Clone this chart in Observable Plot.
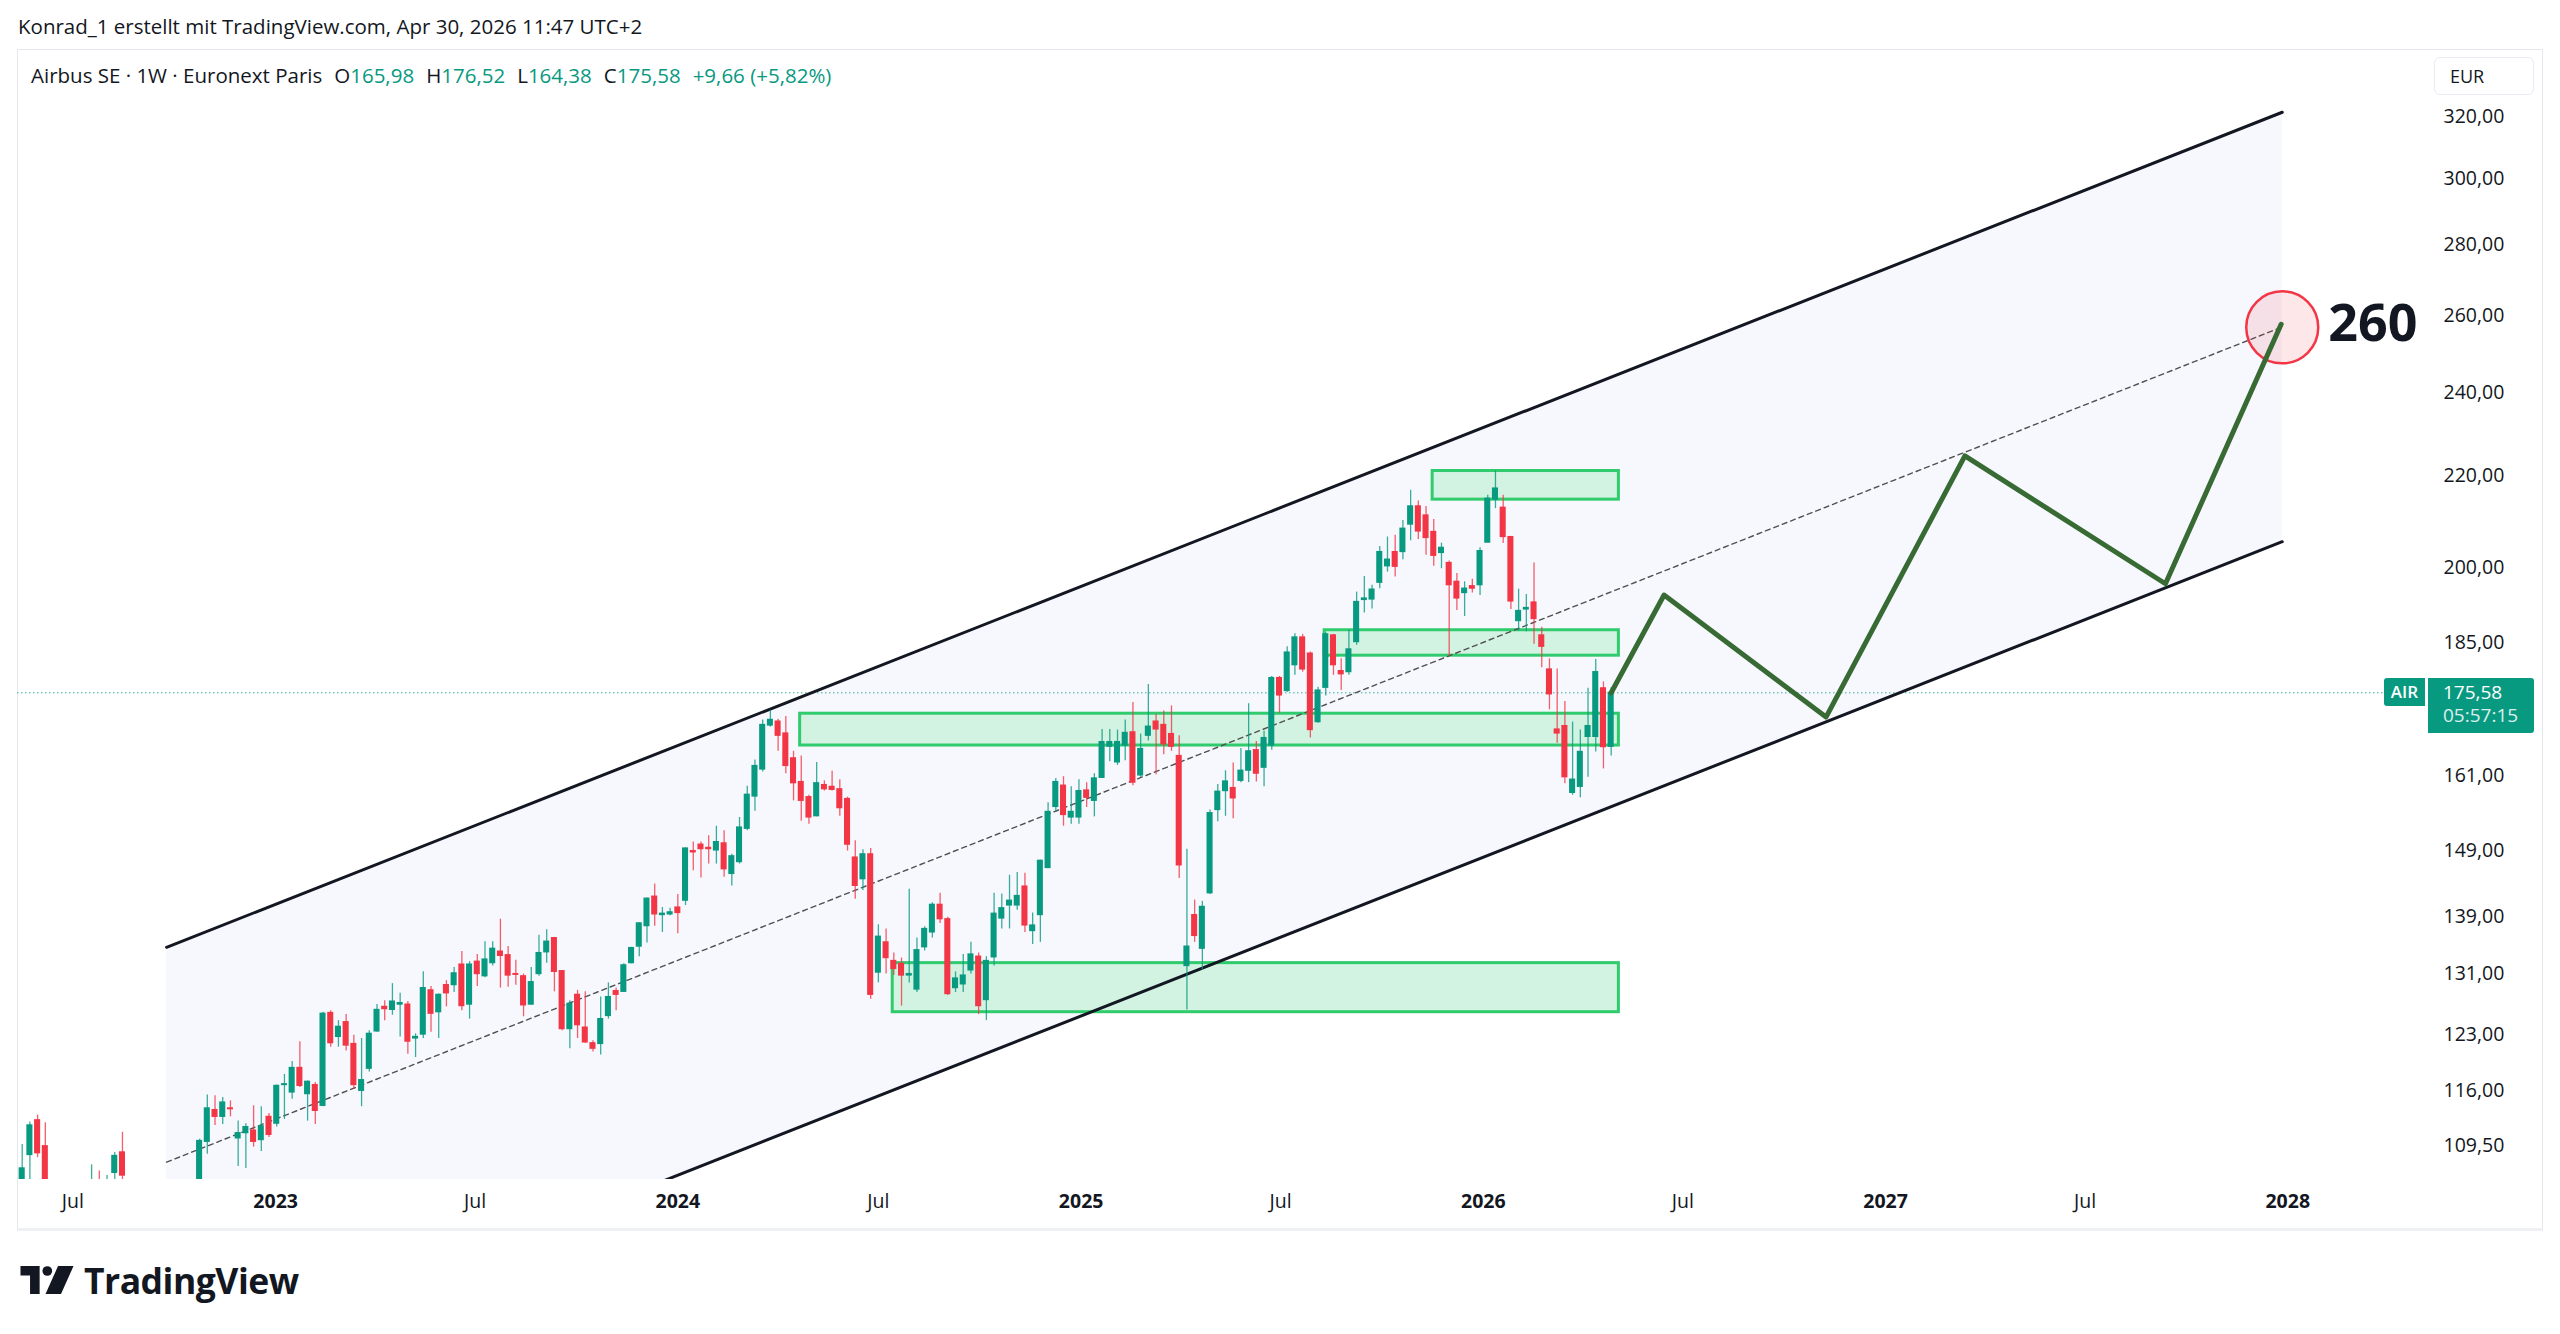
<!DOCTYPE html>
<html>
<head>
<meta charset="utf-8">
<script src="https://cdn.jsdelivr.net/npm/d3@7"></script>
<script src="https://cdn.jsdelivr.net/npm/@observablehq/plot@0.6"></script>
<style>
  html, body { margin: 0; padding: 0; background: #ffffff; }
  body { width: 2560px; height: 1334px; position: relative; overflow: hidden; font-family: "Open Sans", "Noto Sans", sans-serif; color: #131722; }
  #hdr { position: absolute; left: 18px; top: 12px; font-size: 20.5px; line-height: 28px; white-space: nowrap; }
  #pane { position: absolute; left: 17px; top: 49px; width: 2524px; height: 1178px; border: 1px solid #e6e8ee; border-bottom: 3px solid #eef0f3; }
  #chart { position: absolute; left: 0; top: 49px; }
  #legend { position: absolute; left: 31px; top: 61px; font-size: 20.5px; line-height: 28px; white-space: nowrap; }
  #legend .v { color: #089981; }
  #legend .k { margin-left: 12px; }
  #eur { position: absolute; left: 2434px; top: 57px; width: 100px; height: 38px; border: 1px solid #e9ebf0; border-radius: 6px; box-sizing: border-box; font-size: 18px; line-height: 36px; padding-left: 15px; }
  .tag { position: absolute; background: #089981; color: #fff; font-size: 19px; box-sizing: border-box; }
  #air { left: 2384px; width: 41px; height: 28px; line-height: 28px; text-align: center; font-weight: 600; font-size: 17px; border-radius: 3px 0 0 3px; }
  #price { left: 2428px; width: 106px; height: 55px; padding-left: 15px; line-height: 23px; padding-top: 3px; border-radius: 0 3px 3px 0; }
  #price div:last-child { opacity: 0.85; }
  #logo { position: absolute; left: 20px; top: 1261px; height: 38px; display: flex; align-items: center; }
  #logo span { font-weight: 700; font-size: 35.5px; letter-spacing: -0.5px; margin-left: 10px; font-family: "Open Sans", sans-serif; }
</style>
</head>
<body>
<div id="hdr">Konrad_1 erstellt mit TradingView.com, Apr 30, 2026 11:47 UTC+2</div>
<div id="pane"></div>
<div id="chart"></div>
<div id="legend"></div>
<div id="eur">EUR</div>
<div id="logo">
  <svg width="54" height="28" viewBox="0 0 36 19">
    <path d="M0 0H13V19H6.5V6.5H0Z" fill="#131722"/>
    <circle cx="18.2" cy="3.4" r="3.3" fill="#131722"/>
    <path d="M25.5 0H36L27.5 19H17Z" fill="#131722"/>
  </svg>
  <span>TradingView</span>
</div>
<script>
// ---------- data ----------
const firstWeek = "2022-05-16"; // Monday of the first weekly candle, one candle per week after that
const open = [
  105.2, 108.5, 112.5, 109.5, null, null, null, null, null, 100.5,
  104.5, 102.0, 106.5, 108.8, null, null, null, null, null, null,
  null, null, null, 101.5, 110.0, 113.7, 112.9, 113.9, 110.4, 111.0,
  111.3, 110.2, 112.9, 112.1, 116.7, 115.8, 118.8, 115.6, 116.7, 114.2,
  125.8, 122.7, 124.6, 121.8, 116.0, 118.7, 123.4, 126.6, 126.2, 126.9,
  126.9, 122.5, 123.0, 128.8, 125.9, 129.5, 129.5, 132.3, 126.9, 132.7,
  130.7, 132.5, 134.1, 133.6, 131.0, 130.7, 126.9, 131.0, 134.0, 136.0,
  131.4, 123.7, 128.2, 123.9, 121.9, 121.8, 125.4, 128.7, 128.6, 132.5,
  134.8, 137.7, 142.0, 139.3, 139.4, 140.4, 141.4, 148.9, 149.9, 149.4,
  149.0, 150.1, 145.4, 147.2, 152.4, 157.6, 162.1, 169.7, 170.4, 168.3,
  164.0, 160.0, 157.5, 154.4, 159.5, 159.2, 158.8, 157.2, 147.9, 144.6,
  148.4, 131.2, 135.4, 132.8, 132.4, 130.8, 128.9, 134.7, 136.8, 140.8,
  138.7, 129.1, 129.6, 131.5, 133.4, 127.5, 133.3, 138.8, 140.7, 140.7,
  143.5, 137.0, 139.3, 146.3, 155.9, 159.4, 154.2, 154.2, 158.6, 156.9,
  160.7, 166.0, 163.3, 166.2, 168.5, 161.1, 167.9, 170.4, 169.8, 168.2,
  164.4, 132.1, 139.3, 134.5, 142.5, 155.4, 158.5, 159.0, 160.2, 161.9,
  165.4, 162.4, 166.2, 178.3, 175.9, 180.7, 186.0, 182.9, 170.3, 176.5,
  186.4, 179.6, 179.4, 185.1, 193.4, 193.5, 196.9, 200.3, 203.3, 203.3,
  209.2, 213.2, 211.2, 207.6, 203.1, 201.0, 197.1, 194.8, 196.2, 196.4,
  205.3, 214.7, 212.9, 206.5, 189.2, 191.5, 192.9, 186.4, 179.9, 169.0,
  169.6, 158.2, 159.2, 167.7, 167.7, 176.4, 165.98
];
const high = [
  109.7, 112.3, 113.1, 112.2, null, null, null, null, null, 107.4,
  106.7, 106.2, 108.8, 111.1, null, null, null, null, null, null,
  null, null, null, 110.3, 115.5, 115.4, 115.2, 114.8, 112.4, 112.1,
  114.2, 114.1, 113.3, 116.7, 118.0, 119.6, 122.1, 117.2, 117.0, 125.9,
  126.1, 124.8, 125.6, 122.9, 122.5, 123.5, 126.9, 127.4, 129.7, 128.4,
  127.3, 123.1, 131.3, 129.3, 128.3, 130.1, 131.9, 134.1, 132.7, 133.7,
  135.5, 135.5, 138.7, 134.8, 132.9, 131.0, 131.9, 136.4, 137.2, 136.1,
  131.5, 127.4, 128.8, 128.6, 122.2, 127.9, 129.8, 129.1, 132.4, 134.7,
  138.2, 141.8, 143.9, 140.4, 140.3, 142.3, 149.4, 150.3, 150.3, 151.3,
  152.8, 152.1, 148.4, 154.2, 159.3, 163.7, 170.7, 172.4, 170.8, 171.3,
  165.2, 164.4, 157.8, 163.3, 160.2, 161.8, 160.4, 157.5, 150.5, 149.1,
  149.3, 137.9, 137.3, 133.9, 133.2, 143.1, 136.0, 137.6, 141.1, 142.5,
  139.0, 131.3, 133.7, 135.4, 133.9, 133.4, 142.5, 142.4, 145.2, 145.6,
  145.5, 139.6, 147.5, 156.6, 160.6, 160.9, 159.2, 160.4, 159.9, 161.4,
  169.0, 169.0, 168.9, 170.7, 173.8, 168.2, 177.1, 171.7, 172.3, 173.2,
  167.9, 149.2, 141.5, 141.3, 155.4, 159.6, 161.9, 163.2, 165.7, 173.6,
  166.9, 168.7, 178.6, 178.6, 184.2, 186.7, 186.6, 183.2, 176.6, 186.9,
  186.6, 181.9, 187.4, 195.0, 198.2, 196.4, 204.5, 206.5, 206.9, 210.1,
  216.8, 214.4, 213.2, 210.3, 205.2, 201.4, 198.8, 197.1, 197.6, 204.2,
  215.7, 221.2, 215.7, 206.6, 195.6, 194.5, 201.0, 188.0, 181.9, 180.0,
  174.0, 170.3, 168.9, 176.4, 181.8, 177.6, 176.52
];
const low = [
  104.0, 105.3, 108.2, 103.5, null, null, null, null, null, 99.5,
  101.0, 101.0, 105.3, 105.5, null, null, null, null, null, null,
  null, null, null, 100.8, 108.6, 111.9, 112.0, 112.9, 107.2, 107.0,
  109.4, 108.9, 110.5, 111.7, 112.6, 115.0, 116.4, 112.4, 112.0, 114.1,
  121.4, 121.4, 120.9, 116.2, 114.1, 118.3, 123.3, 124.8, 125.5, 122.7,
  120.5, 120.1, 122.5, 123.3, 122.5, 126.6, 128.5, 126.1, 125.0, 129.3,
  130.5, 132.1, 129.1, 129.2, 129.5, 125.3, 126.8, 130.7, 132.5, 128.6,
  123.5, 121.2, 122.5, 121.9, 120.8, 120.4, 125.0, 126.1, 128.5, 132.4,
  133.4, 135.3, 137.7, 136.8, 139.2, 136.6, 140.7, 145.9, 144.8, 146.9,
  146.9, 144.9, 143.6, 146.9, 152.1, 155.2, 161.7, 169.4, 165.2, 161.4,
  156.9, 153.6, 153.1, 154.3, 158.5, 158.5, 154.4, 148.9, 141.6, 142.9,
  127.6, 129.8, 131.0, 130.8, 126.7, 129.8, 128.5, 134.2, 136.0, 138.1,
  128.1, 128.5, 128.5, 131.0, 125.6, 124.8, 132.1, 137.3, 137.3, 140.0,
  136.8, 135.1, 135.4, 146.2, 155.1, 152.8, 153.1, 153.1, 155.8, 154.3,
  160.6, 163.4, 162.8, 163.6, 159.4, 160.8, 167.0, 161.2, 164.6, 165.2,
  144.7, 126.2, 135.4, 131.5, 142.3, 153.5, 154.4, 154.0, 159.9, 159.9,
  160.0, 159.2, 165.4, 171.9, 175.7, 178.8, 179.4, 167.5, 170.1, 175.0,
  178.8, 176.0, 178.8, 184.5, 190.8, 191.6, 195.7, 199.1, 198.1, 201.7,
  205.7, 206.0, 202.6, 200.3, 199.8, 182.4, 191.3, 190.1, 194.8, 194.3,
  205.3, 212.7, 205.1, 191.5, 187.3, 187.1, 184.7, 180.2, 172.5, 166.6,
  159.7, 157.8, 157.4, 160.8, 165.1, 162.2, 164.38
];
const close = [
  107.0, 111.9, 108.7, 104.5, null, null, null, null, null, 103.5,
  102.5, 104.5, 108.4, 106.2, null, null, null, null, null, null,
  null, null, null, 110.1, 113.9, 112.9, 114.6, 113.8, 111.0, 111.7,
  110.0, 111.8, 110.8, 116.6, 116.8, 118.8, 116.6, 117.1, 113.6, 125.7,
  121.9, 124.0, 121.6, 116.7, 117.3, 123.1, 126.2, 126.3, 127.3, 127.1,
  122.1, 122.7, 129.1, 125.7, 128.2, 128.4, 131.1, 126.7, 132.3, 131.0,
  133.0, 134.5, 133.5, 130.8, 130.9, 126.8, 129.9, 133.9, 135.5, 131.3,
  123.7, 127.0, 124.2, 122.0, 121.2, 125.0, 127.9, 128.2, 132.2, 134.6,
  138.1, 141.7, 139.4, 139.5, 139.7, 139.6, 149.3, 148.7, 149.2, 149.2,
  150.3, 146.1, 148.1, 152.6, 157.9, 162.7, 169.8, 170.7, 167.9, 162.7,
  159.8, 156.9, 154.2, 159.8, 158.8, 158.7, 155.7, 149.9, 143.6, 148.4,
  128.2, 136.2, 133.2, 131.7, 130.8, 131.0, 134.3, 137.3, 140.8, 138.7,
  128.3, 130.4, 130.8, 133.7, 126.7, 132.8, 139.5, 140.3, 141.4, 142.1,
  137.8, 137.8, 147.4, 155.1, 160.0, 154.6, 155.1, 158.5, 157.4, 160.6,
  166.8, 166.8, 166.8, 168.4, 159.9, 165.6, 169.5, 169.0, 166.4, 166.0,
  146.7, 134.8, 136.3, 140.5, 154.9, 158.4, 160.1, 157.3, 161.9, 165.2,
  161.4, 167.5, 178.3, 175.1, 183.1, 186.0, 179.9, 168.9, 176.0, 186.6,
  180.7, 179.0, 183.7, 193.0, 193.7, 195.5, 203.3, 201.7, 200.2, 208.3,
  213.2, 207.7, 206.3, 202.5, 204.2, 196.4, 193.7, 195.7, 195.7, 203.5,
  214.9, 217.2, 206.5, 193.1, 191.2, 191.8, 189.6, 184.2, 175.3, 168.3,
  160.8, 160.4, 165.1, 169.6, 179.4, 165.92, 175.58
];

// parallel channel (start / end anchors) and its dashed median
const channelDates = ["2022-09-24", "2027-12-27"];
const channelUpper = [134.7, 321.4];
const channelLower = [86.1, 205.5];
const channelMid = [107.7, 257.0];

// green support / resistance zones
const zoneStart = ["2025-11-16", "2025-08-10", "2024-04-21", "2024-07-14"];
const zoneEnd = ["2026-05-04", "2026-05-04", "2026-05-04", "2026-05-04"];
const zoneTop = [221.2, 187.4, 171.8, 132.5];
const zoneBottom = [214.7, 182.5, 166.2, 125.9];

// projected zig-zag path
const pathDates = ["2026-04-27", "2026-06-14", "2026-11-08", "2027-03-14", "2027-09-12", "2027-12-26"];
const pathPrices = [175.58, 194.4, 171.2, 224.7, 196.7, 257.7];

// target marker
const targetDate = "2027-12-27";
const targetPrice = 256.9;
const targetLabel = "260";

// axes
const yTicks = [320, 300, 280, 260, 240, 220, 200, 185, 161, 149, 139, 131, 123, 116, 109.5];
const julTicks = ["2022-07-01", "2023-07-01", "2024-07-01", "2025-07-01", "2026-07-01", "2027-07-01"];
const yearTicks = ["2023-01-01", "2024-01-01", "2025-01-01", "2026-01-01", "2027-01-01", "2028-01-01"];
const xDomain = ["2022-05-11T18:00:00Z", "2028-05-05T00:00:00Z"];
const yDomain = [105.77, 343.1];

// ---------- build ----------
const GREEN = "#089981", RED = "#f23645";
const DAY = 864e5;
const utc = s => new Date(s.length <= 10 ? s + "T00:00:00Z" : s);
const t0 = +utc(firstWeek);
const candles = open.map((o, i) => ({
  date: new Date(t0 + i * 7 * DAY), open: o, high: high[i], low: low[i], close: close[i]
})).filter(d => d.open != null);
const col = d => d.close >= d.open ? GREEN : RED;

const channel = channelDates.map((d, i) => ({date: utc(d), upper: channelUpper[i], lower: channelLower[i], mid: channelMid[i]}));
const zones = zoneStart.map((d, i) => ({start: utc(d), end: utc(zoneEnd[i]), top: zoneTop[i], bottom: zoneBottom[i]}));
const path = pathDates.map((d, i) => ({date: utc(d), price: pathPrices[i]}));
const target = [{date: utc(targetDate), price: targetPrice}];
const fmt = v => v.toFixed(2).replace(".", ",");

const last = candles[candles.length - 1];
const prev = candles[candles.length - 2];

const plot = Plot.plot({
  width: 2560,
  height: 1180,
  marginLeft: 17,
  marginRight: 135,
  marginTop: 0,
  marginBottom: 50,
  style: {fontFamily: "'Open Sans', 'Noto Sans', sans-serif", fontSize: "19px", color: "#131722", background: "transparent", overflow: "visible"},
  x: {type: "utc", domain: xDomain.map(utc)},
  y: {type: "log", domain: yDomain},
  color: {type: "identity"},
  marks: [
    Plot.areaY(channel, {x: "date", y1: "lower", y2: "upper", fill: "#f7f8fe", clip: "frame"}),
    Plot.rect(zones, {x1: "start", x2: "end", y1: "bottom", y2: "top", fill: "#d2f2e2", stroke: "#2fcb6c", strokeWidth: 3}),
    Plot.ruleY([last.close], {stroke: GREEN, strokeWidth: 1, strokeDasharray: "1.5,2.5", strokeOpacity: 0.8}),
    Plot.line(channel, {x: "date", y: "mid", stroke: "#505050", strokeWidth: 1.4, strokeDasharray: "5,4", clip: "frame"}),
    Plot.line(channel, {x: "date", y: "upper", stroke: "#131722", strokeWidth: 3, clip: "frame"}),
    Plot.line(channel, {x: "date", y: "lower", stroke: "#131722", strokeWidth: 3, clip: "frame"}),
    Plot.ruleX(candles, {x: "date", y1: "low", y2: "high", stroke: col, strokeWidth: 1.3, strokeOpacity: 0.8, clip: "frame"}),
    Plot.rect(candles, {
      x1: d => new Date(+d.date - 2.75 * DAY), x2: d => new Date(+d.date + 2.75 * DAY),
      y1: "open", y2: "close", fill: col, insetTop: -0.6, insetBottom: -0.6, clip: "frame"
    }),
    Plot.dot(target, {x: "date", y: "price", r: 36, fill: RED, fillOpacity: 0.12, stroke: RED, strokeWidth: 2.5}),
    Plot.line(path, {x: "date", y: "price", stroke: "#386a34", strokeWidth: 5, strokeLinejoin: "round", strokeLinecap: "round"}),
    Plot.text(target, {x: "date", y: "price", text: () => targetLabel, dx: 46, dy: -3, textAnchor: "start", fontSize: 52, fontWeight: "bold", fill: "#131722"}),
    Plot.axisY(yTicks, {anchor: "right", tickSize: 0, tickPadding: 18, tickFormat: fmt, fontSize: 19.5, fill: "#131722", label: null}),
    Plot.axisX(julTicks.map(utc), {tickSize: 0, tickPadding: 15, tickFormat: () => "Jul", fontSize: 19.5, fill: "#131722", label: null}),
    Plot.axisX(yearTicks.map(utc), {tickSize: 0, tickPadding: 15, tickFormat: d => String(d.getUTCFullYear()), fontSize: 19.5, fontWeight: "bold", fill: "#131722", label: null})
  ]
});
document.getElementById("chart").append(plot);

// legend line built from the last candle
const chg = last.close - prev.close;
const pct = chg / prev.close * 100;
document.getElementById("legend").innerHTML =
  `Airbus SE · 1W · Euronext Paris<span class="k">O</span><span class="v">${fmt(last.open)}</span>` +
  `<span class="k">H</span><span class="v">${fmt(last.high)}</span>` +
  `<span class="k">L</span><span class="v">${fmt(last.low)}</span>` +
  `<span class="k">C</span><span class="v">${fmt(last.close)}</span>` +
  `<span class="k v">${chg >= 0 ? "+" : ""}${fmt(chg)} (${chg >= 0 ? "+" : ""}${fmt(pct)}%)</span>`;

// price tags at the last close, positioned through the plot's y scale
const yPix = 49 + plot.scale("y").apply(last.close);
const air = document.createElement("div");
air.className = "tag"; air.id = "air"; air.textContent = "AIR";
air.style.top = (yPix - 14) + "px";
const price = document.createElement("div");
price.className = "tag"; price.id = "price";
price.innerHTML = `<div>${fmt(last.close)}</div><div>05:57:15</div>`;
price.style.top = (yPix - 14) + "px";
document.body.append(air, price);
</script>
</body>
</html>
